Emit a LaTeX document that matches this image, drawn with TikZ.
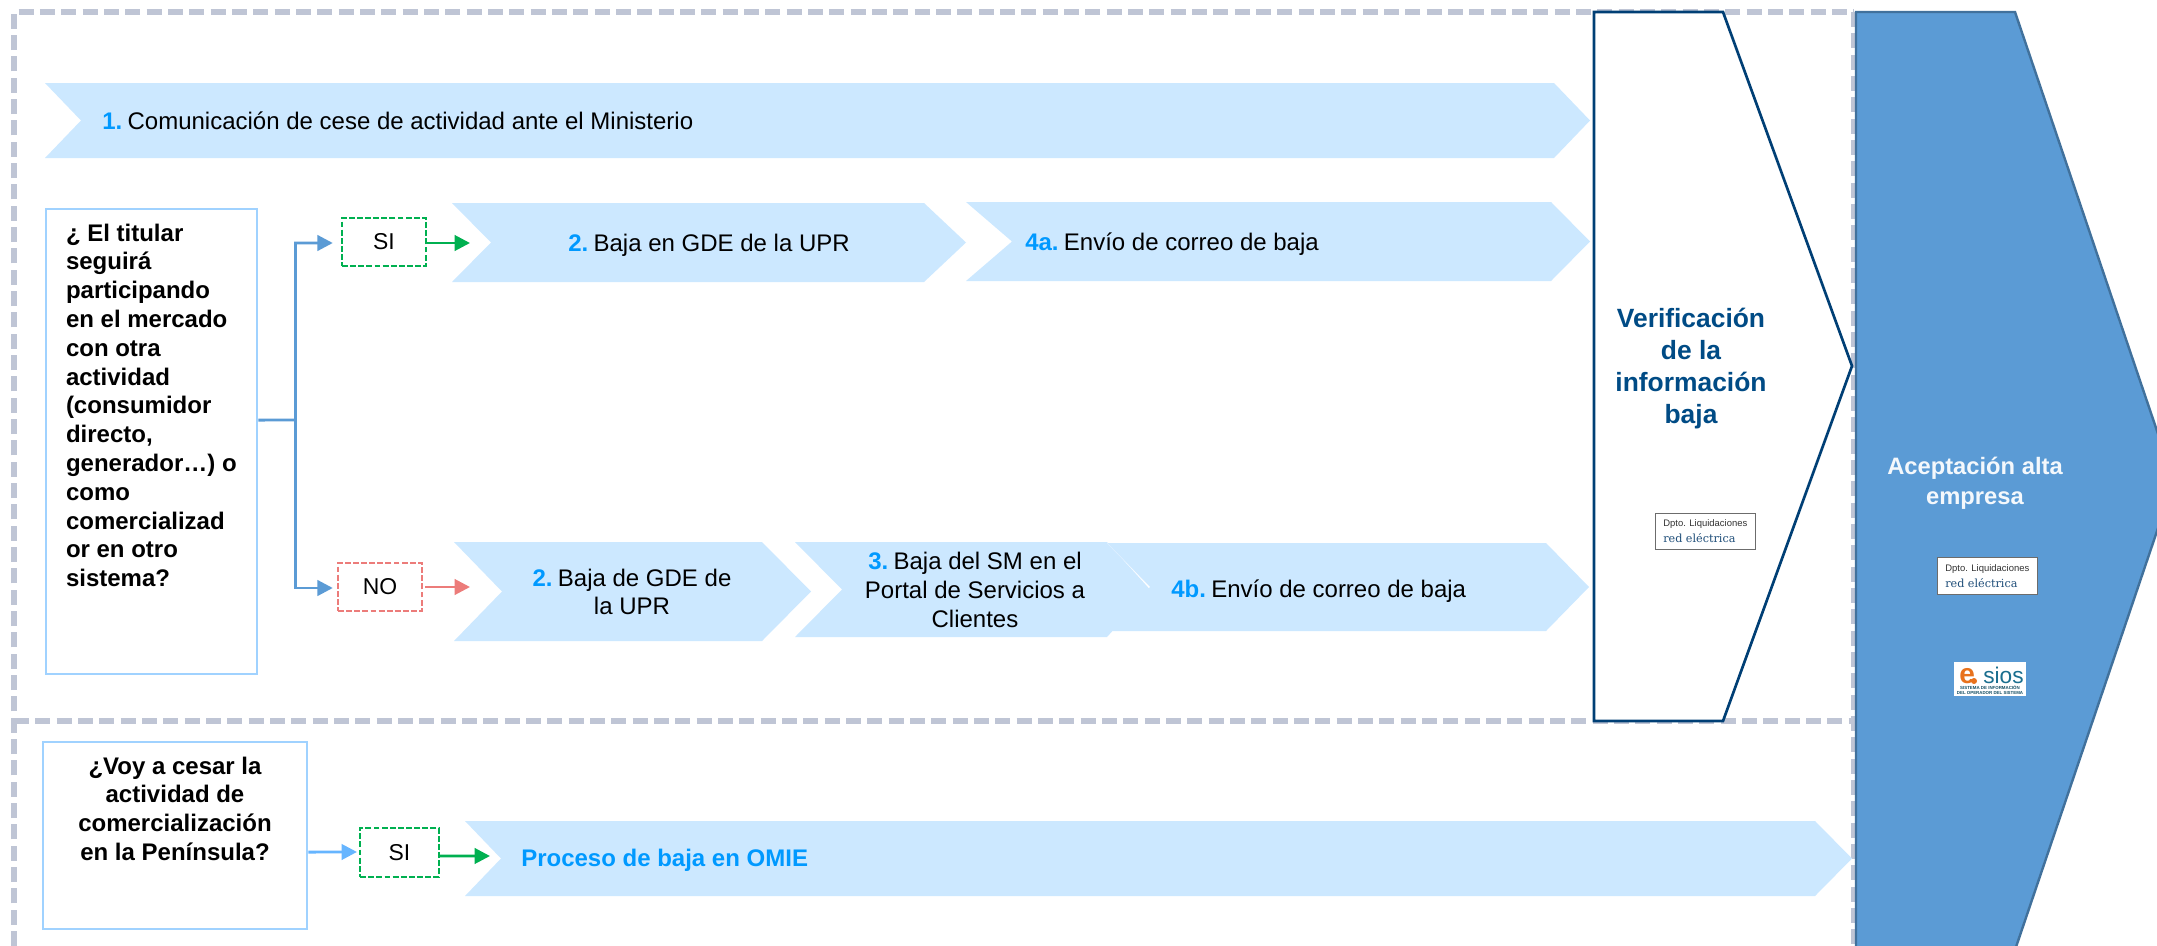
\documentclass[tikz,border=0pt]{standalone}
\usepackage{fontspec}
\setmainfont{Liberation Sans}
\newfontfamily\slabfont{DejaVu Serif}
\usetikzlibrary{arrows.meta}
\definecolor{chevfill}{HTML}{CCE8FF}
\definecolor{numblue}{HTML}{0099FF}
\definecolor{dashgray}{HTML}{BFC5D5}
\definecolor{navy}{HTML}{003F75}
\definecolor{navytext}{HTML}{004B85}
\definecolor{stepblue}{HTML}{5B9BD5}
\definecolor{stepedge}{HTML}{41719C}
\definecolor{boxblue}{HTML}{A0D2FF}
\definecolor{linkblue}{HTML}{66B5FF}
\definecolor{yesgreen}{HTML}{00B050}
\definecolor{nored}{HTML}{EC7C7A}
\definecolor{slabblue}{HTML}{1F4E79}
\definecolor{esiosteal}{HTML}{1B6F8F}
\definecolor{esiosorange}{HTML}{E8721C}
\newcommand\mainsize{\fontsize{18}{21.6}\selectfont}
\newcommand\num[1]{\textcolor{numblue}{\textbf{#1}}\hspace{4pt}}
% name, left, notch, shoulder, tip, top, bottom
\newcommand\chev[7]{%
  \path[chevshape] (#2,#6) -- (#4,#6) -- (#5,{(#6+#7)/2}) -- (#4,#7) -- (#2,#7) -- (#3,{(#6+#7)/2}) -- cycle;
  \coordinate (#1) at (#3,{(#6+#7)/2});}
\tikzset{
  chevshape/.style={fill=chevfill},
  dashline/.style={draw=dashgray,line width=3.8pt,dash pattern=on 11.3pt off 4.7pt},
  qbox/.style={draw=boxblue,line width=2.2pt,fill=white,inner sep=0pt},
  choice/.style={draw,fill=white,line width=1.8pt,dash pattern=on 4.4pt off 1.7pt,inner sep=0pt,font=\fontsize{17.2}{20}\selectfont},
  steptext/.style={inner sep=0pt,font=\mainsize,anchor=base west},
  stepcentre/.style={inner sep=0pt,font=\mainsize,align=center},
  tiplink/.style={line width=2.2pt,-{Triangle[length=11.5pt,width=11.5pt]}},
  dept/.style={draw=gray!85!black,fill=white,line width=0.7pt,minimum width=75pt,minimum height=27.5pt,inner sep=0pt},
}
\begin{document}
\begin{tikzpicture}[x=0.75pt,y=-0.75pt]
\useasboundingbox (0,0) rectangle (2157,946);
\fill[white] (0,0) rectangle (2157,946);
% dashed frames
\path[dashline] (14,946) -- (14,12) -- (1854,12);
\path[dashline] (14,721) -- (1854,721);
\path[dashline] (1854,12) -- (1854,946);
% chevrons
\chev{c1}{45}{81}{1554}{1590}{83}{158}
\chev{c2a}{452}{491}{924}{966}{203}{282}
\chev{c4a}{966}{1012}{1551}{1590}{202}{281}
\chev{c2b}{454}{502}{762}{811}{542}{641}
\chev{c3}{795}{842}{1107}{1150}{542}{637}
\chev{c4b}{1107}{1150}{1546}{1589}{543}{631}
\chev{comie}{465}{501}{1815}{1852}{821}{896}
\draw[white,line width=0.4pt,opacity=0.35] (1107,543) -- (c4b);
% step texts
\node[steptext] (t1) at (102,129) {\num{1.}Comunicación de cese de actividad ante el Ministerio};
\node[steptext] (t2a) at (568,251) {\num{2.}Baja en GDE de la UPR};
\node[steptext] (t4a) at (1025,250) {\num{4a.}Envío de correo de baja};
\node[stepcentre] (t2b) at (632,592) {\num{2.}Baja de GDE de\\la UPR};
\node[stepcentre] (t3) at (975,590) {\num{3.}Baja del SM en el\\Portal de Servicios a\\Clientes};
\node[steptext] (t4b) at (1171,597) {\num{4b.}Envío de correo de baja};
\node[steptext] (tomie) at (521,866) {\textcolor{numblue}{\textbf{Proceso de baja en OMIE}}};
% question boxes
\node[qbox,minimum width=158.25pt,minimum height=348.75pt] (q1) at (151.5,441.5) {\parbox[c][348.75pt][t]{158.25pt}{\mainsize\bfseries\leftskip=15pt\rightskip=0pt plus 1fil\parindent=0pt\vspace*{11pt}¿ El titular\\seguirá\\participando\\en el mercado\\con otra\\actividad\\(consumidor\\directo,\\generador…) o\\como\\comercializad\\or en otro\\sistema?}};
\node[qbox,minimum width=198pt,minimum height=140.25pt] (q2) at (175,835.5) {\parbox[c][140.25pt][t]{198pt}{\mainsize\bfseries\centering\vspace*{11pt}¿Voy a cesar la\\actividad de\\comercialización\\en la Península?}};
% choices
\node[choice,draw=yesgreen,minimum width=63pt,minimum height=36pt] (si1) at (384,242) {SI};
\node[choice,draw=nored,minimum width=63pt,minimum height=36pt] (no1) at (380,587) {NO};
\node[choice,draw=yesgreen,minimum width=59pt,minimum height=36.7pt] (si2) at (399.5,852.5) {SI};
% connectors
\coordinate (branch) at (295.5,420);
\coordinate (yes1end) at (470,243);
\coordinate (no1end) at (470,587);
\coordinate (yes2end) at (490,856);
\draw[tiplink,stepblue] ([yshift=16.1pt]q1.east) -- (branch) |- ([yshift=-0.75pt,xshift=-6pt]si1.west);
\draw[tiplink,stepblue] (branch) |- ([yshift=-0.75pt,xshift=-3pt]no1.west);
\draw[tiplink,yesgreen] ([xshift=-1.5pt,yshift=-0.75pt]si1.east) -- (yes1end);
\draw[tiplink,nored] ([xshift=1.5pt]no1.east) -- (no1end);
\draw[tiplink,linkblue] ([yshift=-12.4pt]q2.east) -- ([yshift=0.4pt,xshift=-1.5pt]si2.west);
\draw[tiplink,yesgreen] ([yshift=-2.6pt,xshift=-1pt]si2.east) -- (yes2end);
% verification pentagon
\draw[navy,line width=2pt,fill=white,line join=miter] (1594,12) -- (1723,12) -- (1852,366) -- (1723,721) -- (1594,721) -- cycle;
\node[inner sep=0pt,align=center,text=navytext,font=\fontsize{19.8}{24}\selectfont\bfseries] (verif) at (1691,369) {Verificación\\de la\\información\\baja};
\node[dept] (deptA) at (1705,531.5) {};
\node[inner sep=0pt,anchor=base west,font=\fontsize{7.1}{8}\selectfont,text=black!80] (deptAt) at (1663,526) {Dpto. Liquidaciones};
\node[inner sep=0pt,anchor=base west,font=\fontsize{8.4}{9}\selectfont\slabfont,text=slabblue] (deptAr) at (1663,542) {red eléctrica};
% acceptance pentagon
\begin{scope}
\clip (0,0) rectangle (2157,946);
\draw[stepedge,line width=1.8pt,fill=stepblue] (1856,12) -- (2015,12) -- (2174,481) -- (2015,950) -- (1856,950) -- cycle;
\end{scope}
\node[inner sep=0pt,align=center,text=white!93!stepblue,font=\fontsize{17.8}{22.5}\selectfont\bfseries] (acept) at (1975,483) {Aceptación alta\\empresa};
\node[dept] (deptB) at (1987,576) {};
\node[inner sep=0pt,anchor=base west,font=\fontsize{7.1}{8}\selectfont,text=black!80] (deptBt) at (1945,571) {Dpto. Liquidaciones};
\node[inner sep=0pt,anchor=base west,font=\fontsize{8.4}{9}\selectfont\slabfont,text=slabblue] (deptBr) at (1945,587) {red eléctrica};
% esios logo
\node[fill=white,minimum width=54pt,minimum height=25.5pt,inner sep=0pt] (esios) at (1990,679) {};
\node[inner sep=0pt,anchor=base west,font=\fontsize{21}{22}\selectfont\bfseries,text=esiosorange] (esiose) at (1959,683) {e};
\fill[esiosorange] (1974,681) circle (3);
\node[inner sep=0pt,anchor=base west,font=\fontsize{17}{20}\selectfont,text=esiosteal] (esioss) at (1983,683) {sios};
\node[inner sep=0pt,anchor=center,align=center,font=\fontsize{3.3}{3.75}\selectfont\bfseries,text=esiosteal!70!black] (esiost) at (1990,690) {SISTEMA DE INFORMACIÓN\\DEL OPERADOR DEL SISTEMA};
\end{tikzpicture}
\end{document}
